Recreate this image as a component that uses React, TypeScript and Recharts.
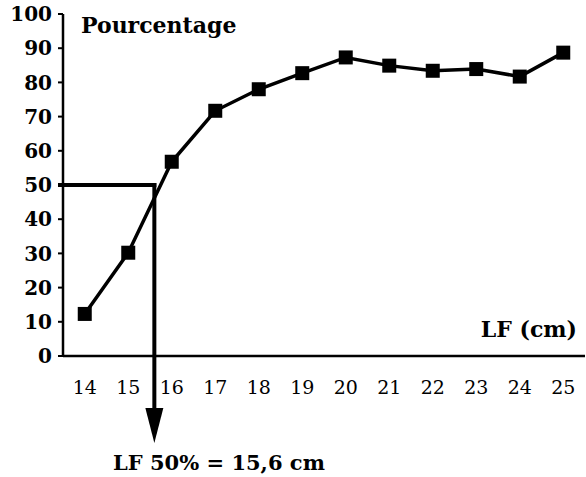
import React from 'react';
import { LineChart, Line, XAxis, YAxis, ReferenceLine } from 'recharts';

// Categories: fork length classes (cm)
const lengths = [14, 15, 16, 17, 18, 19, 20, 21, 22, 23, 24, 25];
// Percentage of mature individuals per length class
const percentages = [12.3, 30.2, 56.8, 71.7, 78.0, 82.7, 87.3, 84.9, 83.4, 83.9, 81.7, 88.7];
// Y axis ticks
const yTicks = [0, 10, 20, 30, 40, 50, 60, 70, 80, 90, 100];
// Class boundaries (tick marks on the x axis)
const classBounds = [13.5, 14.5, 15.5, 16.5, 17.5, 18.5, 19.5, 20.5, 21.5, 22.5, 23.5, 24.5, 25.5];
// LF50 reading
const lf50 = 15.6;
const level50 = 50;

const yTitle = 'Pourcentage';
const xTitle = 'LF (cm)';
const lf50Text = 'LF 50% = 15,6 cm';

const data = lengths.map((lf, i) => ({ lf, pct: percentages[i] }));

const FONT = 'DejaVu Serif';

const SquareDot = (props: any) => {
  const { cx, cy } = props;
  if (cx == null || cy == null) return null;
  return <rect x={cx - 7} y={cy - 7} width={14} height={14} fill="#000" />;
};

const YTick = (props: any) => {
  const { x, y, payload } = props;
  return (
    <text x={x} y={y} dy="0.36em" textAnchor="end" fontFamily={FONT} fontWeight="bold" fontSize={20} fill="#000">
      {payload.value}
    </text>
  );
};

const XTick = (props: any) => {
  const { x, y, payload } = props;
  return (
    <text x={x} y={y} dy="0.73em" textAnchor="middle" fontFamily={FONT} fontSize={19} fill="#000">
      {payload.value}
    </text>
  );
};

const HLineShape = (props: any) => {
  const { x1, y1, x2, y2 } = props;
  return <line x1={x1 - 5} y1={y1} x2={x2 + 2} y2={y2} stroke="#000" strokeWidth={4} />;
};

const VArrowShape = (props: any) => {
  const { x1, y1, x2, y2 } = props;
  return (
    <g>
      <line x1={x1} y1={y1 - 2} x2={x2} y2={y2 + 56} stroke="#000" strokeWidth={4} />
      <polygon points={`${x2 - 9},${y2 + 52} ${x2 + 9},${y2 + 52} ${x2},${y2 + 87}`} fill="#000" />
    </g>
  );
};

export default function App() {
  return (
    <div style={{ position: 'absolute', left: 0, top: 0, width: 586, height: 477, background: '#fff' }}>
      <LineChart
        width={586}
        height={477}
        data={data}
        margin={{ top: 14, right: 1, left: 0, bottom: 119 }}
      >
        <XAxis
          xAxisId="bounds"
          dataKey="lf"
          type="number"
          domain={[13.5, 25.5]}
          ticks={classBounds}
          interval={0}
          tick={false}
          tickSize={5}
          height={1}
          axisLine={{ stroke: '#000', strokeWidth: 2.5 }}
          tickLine={{ stroke: '#000', strokeWidth: 2 }}
        />
        <XAxis
          xAxisId="labels"
          dataKey="lf"
          type="number"
          domain={[13.5, 25.5]}
          ticks={lengths}
          interval={0}
          height={1}
          axisLine={false}
          tickLine={false}
          tickSize={0}
          tickMargin={23}
          tick={<XTick />}
        />
        <YAxis
          domain={[0, 100]}
          ticks={yTicks}
          interval={0}
          width={63}
          tickSize={5}
          tickMargin={6}
          axisLine={{ stroke: '#000', strokeWidth: 2.5 }}
          tickLine={{ stroke: '#000', strokeWidth: 2 }}
          tick={<YTick />}
        />
        <ReferenceLine
          xAxisId="labels"
          segment={[{ x: 13.5, y: level50 }, { x: lf50, y: level50 }]}
          ifOverflow="visible"
          shape={HLineShape}
        />
        <ReferenceLine
          xAxisId="labels"
          segment={[{ x: lf50, y: level50 }, { x: lf50, y: 0 }]}
          ifOverflow="visible"
          shape={VArrowShape}
        />
        <Line
          xAxisId="labels"
          type="linear"
          dataKey="pct"
          stroke="#000"
          strokeWidth={3.5}
          dot={<SquareDot />}
          activeDot={false}
          isAnimationActive={false}
        />
      </LineChart>
      <svg
        width={586}
        height={477}
        style={{ position: 'absolute', left: 0, top: 0, pointerEvents: 'none' }}
      >
        <text x={81} y={33} fontFamily={FONT} fontWeight="bold" fontSize={22} fill="#000">
          {yTitle}
        </text>
        <text x={577} y={337} textAnchor="end" fontFamily={FONT} fontWeight="bold" fontSize={22} fill="#000">
          {xTitle}
        </text>
        <text x={113} y={470} fontFamily={FONT} fontWeight="bold" fontSize={21} fill="#000">
          {lf50Text}
        </text>
      </svg>
    </div>
  );
}
